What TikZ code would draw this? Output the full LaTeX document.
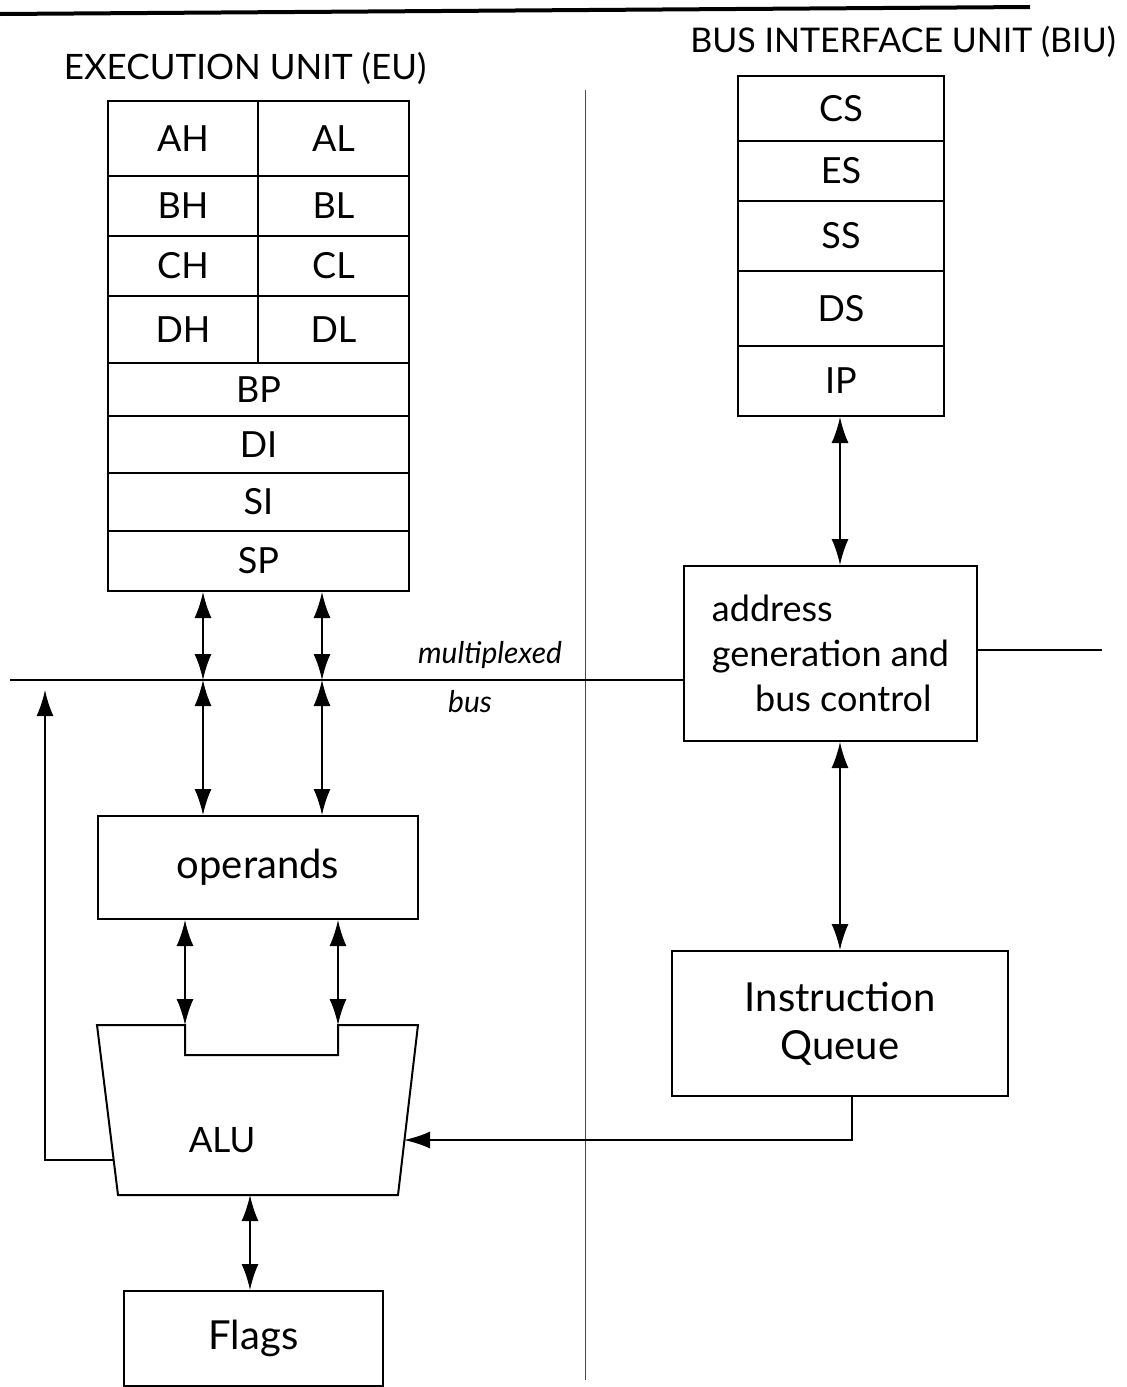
\documentclass[tikz,border=0pt]{standalone}
\usepackage{fontspec}
\setmainfont{Lato}
\usetikzlibrary{arrows.meta}
\tikzset{
  box/.style={draw, line width=2pt, inner sep=0pt, font=\fontsize{36}{45}\selectfont},
  cell/.style={box, anchor=north west},
  big/.style={font=\fontsize{40}{48}\selectfont},
  lbl/.style={font=\fontsize{35}{42}\selectfont},
  dbl/.style={line width=1.8pt, {Latex[length=26pt,width=17pt]}-{Latex[length=26pt,width=17pt]}},
  one/.style={line width=1.8pt, -{Latex[length=26pt,width=17pt]}},
  plain/.style={line width=1.8pt},
  divider/.style={line width=1pt, black!70},
}
\begin{document}
\begin{tikzpicture}[x=1pt,y=-1pt]
\useasboundingbox (0,0) rectangle (1127,1387);
% top fragment
\draw[line width=4pt] (0,14) -- (1030,7);
% titles
\node[lbl] (eut) at (245,68) {EXECUTION UNIT (EU)};
\node[lbl, font=\fontsize{34}{40}\selectfont] (biut) at (903,42) {BUS INTERFACE UNIT (BIU)};
% divider
\draw[divider] (585,90) -- (585,1380);
% EU registers
\node[cell, minimum width=150, minimum height=75] (AH) at (107,100) {AH};
\node[cell, minimum width=151, minimum height=75] (AL) at (257,100) {AL};
\node[cell, minimum width=150, minimum height=60] (BH) at (107,175) {BH};
\node[cell, minimum width=151, minimum height=60] (BL) at (257,175) {BL};
\node[cell, minimum width=150, minimum height=60] (CH) at (107,235) {CH};
\node[cell, minimum width=151, minimum height=60] (CL) at (257,235) {CL};
\node[cell, minimum width=150, minimum height=67] (DH) at (107,295) {DH};
\node[cell, minimum width=151, minimum height=67] (DL) at (257,295) {DL};
\node[cell, minimum width=301, minimum height=53] (BP) at (107,362) {BP};
\node[cell, minimum width=301, minimum height=57] (DI) at (107,415) {DI};
\node[cell, minimum width=301, minimum height=58] (SI) at (107,472) {SI};
\node[cell, minimum width=301, minimum height=60] (SP) at (107,530) {SP};
% BIU registers
\node[cell, minimum width=206, minimum height=65] (CS) at (737,75) {CS};
\node[cell, minimum width=206, minimum height=60] (ES) at (737,140) {ES};
\node[cell, minimum width=206, minimum height=70] (SS) at (737,200) {SS};
\node[cell, minimum width=206, minimum height=75] (DS) at (737,270) {DS};
\node[cell, minimum width=206, minimum height=70] (IP) at (737,345) {IP};
% boxes
\node[cell, minimum width=293, minimum height=175, align=left] (addr) at (683,565) {address\\generation and\\\hspace*{1.2em}bus control};
\node[cell, big, minimum width=320, minimum height=103] (ops) at (97,815) {operands};
\node[cell, big, minimum width=336, minimum height=145, align=center] (iq) at (671,950) {Instruction\\Queue};
\node[cell, big, minimum width=259, minimum height=95] (flags) at (123,1290) {Flags};
% ALU
\draw[line width=2pt] (97,1025) -- (185,1025) -- (185,1055) -- (338,1055) -- (338,1025)
  -- (418,1025) -- (398,1195) -- (118,1195) -- cycle;
\node[lbl] (alu) at (222,1140) {ALU};
% coordinates
\coordinate (b1) at (203,680);
\coordinate (b2) at (322,680);
\coordinate (a1) at (185,1025);
\coordinate (a2) at (338,1025);
\coordinate (c1) at (840,0);
\coordinate (fb) at (45,1160);
\coordinate (fbt) at (45,690);
\coordinate (aluL) at (113,1160);
\coordinate (aluR) at (404,1140);
\coordinate (iqc) at (852,1140);
\coordinate (aluB) at (250,1195);
\coordinate (busL) at (10,680);
\coordinate (busR) at (1102,650);
% bus
\draw[plain] (busL) -- (addr.west |- busL);
\draw[plain] (addr.east |- busR) -- (busR);
\node[lbl, font=\fontsize{30}{36}\selectfont\itshape] (mux) at (490,655) {multiplexed};
\node[lbl, font=\fontsize{30}{36}\selectfont\itshape] (busl) at (470,702) {bus};
% EU connectors
\draw[dbl] (SP.south -| b1) -- (b1);
\draw[dbl] (SP.south -| b2) -- (b2);
\draw[dbl] (b1) -- (ops.north -| b1);
\draw[dbl] (b2) -- (ops.north -| b2);
\draw[dbl] (ops.south -| a1) -- (a1);
\draw[dbl] (ops.south -| a2) -- (a2);
\draw[one] (aluL) -- (fb) -- (fbt);
\draw[dbl] (aluB) -- (flags.north -| aluB);
% BIU connectors
\draw[dbl] (IP.south -| c1) -- (addr.north -| c1);
\draw[dbl] (addr.south -| c1) -- (iq.north -| c1);
\draw[one] (iq.south -| iqc) -- (iqc) -- (aluR);
\end{tikzpicture}
\end{document}
